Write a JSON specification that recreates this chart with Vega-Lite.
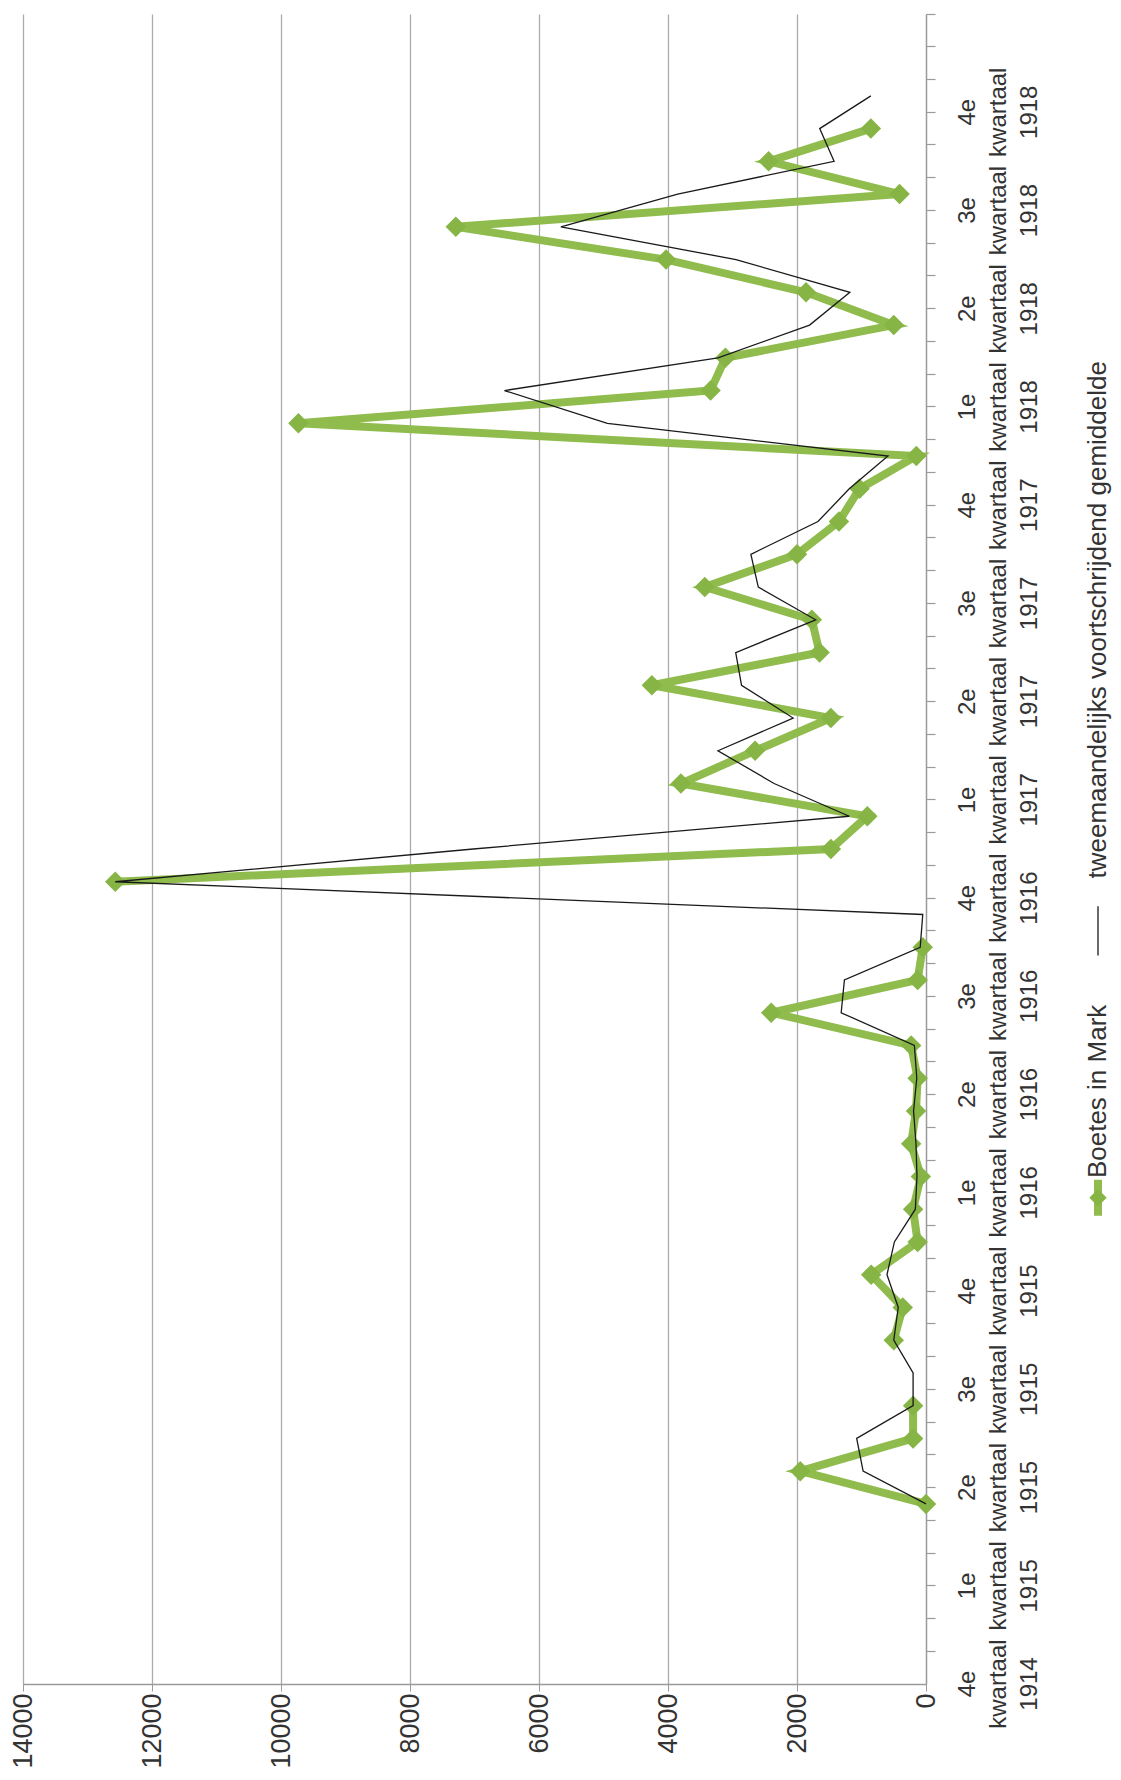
{
  "$schema": "https://vega.github.io/schema/vega-lite/v6.json",
  "background": "white",
  "padding": {"left": 9, "top": 13, "right": 5, "bottom": 5},
  "config": {"view": {"stroke": null}, "font": "Liberation Sans"},
  "spacing": 42,
  "hconcat": [
    {
      "width": 903,
      "height": 1670,
      "data": {"values": [
        {"maand": "1914-10", "boete": null, "gemiddelde": null},
        {"maand": "1914-11", "boete": null, "gemiddelde": null},
        {"maand": "1914-12", "boete": null, "gemiddelde": null},
        {"maand": "1915-01", "boete": null, "gemiddelde": null},
        {"maand": "1915-02", "boete": null, "gemiddelde": null},
        {"maand": "1915-03", "boete": 0, "gemiddelde": 0},
        {"maand": "1915-04", "boete": 1950, "gemiddelde": 975},
        {"maand": "1915-05", "boete": 200, "gemiddelde": 1075},
        {"maand": "1915-06", "boete": 200, "gemiddelde": 200},
        {"maand": "1915-07", "boete": null, "gemiddelde": 200},
        {"maand": "1915-08", "boete": 500, "gemiddelde": 500},
        {"maand": "1915-09", "boete": 360, "gemiddelde": 430},
        {"maand": "1915-10", "boete": 850, "gemiddelde": 605},
        {"maand": "1915-11", "boete": 130, "gemiddelde": 490},
        {"maand": "1915-12", "boete": 200, "gemiddelde": 165},
        {"maand": "1916-01", "boete": 80, "gemiddelde": 140},
        {"maand": "1916-02", "boete": 230, "gemiddelde": 155},
        {"maand": "1916-03", "boete": 155, "gemiddelde": 193},
        {"maand": "1916-04", "boete": 130, "gemiddelde": 143},
        {"maand": "1916-05", "boete": 230, "gemiddelde": 180},
        {"maand": "1916-06", "boete": 2400, "gemiddelde": 1315},
        {"maand": "1916-07", "boete": 130, "gemiddelde": 1265},
        {"maand": "1916-08", "boete": 50, "gemiddelde": 90},
        {"maand": "1916-09", "boete": null, "gemiddelde": 50},
        {"maand": "1916-10", "boete": 12570, "gemiddelde": 12570},
        {"maand": "1916-11", "boete": 1475, "gemiddelde": 7020},
        {"maand": "1916-12", "boete": 910, "gemiddelde": 1190},
        {"maand": "1917-01", "boete": 3800, "gemiddelde": 2355},
        {"maand": "1917-02", "boete": 2650, "gemiddelde": 3225},
        {"maand": "1917-03", "boete": 1475, "gemiddelde": 2060},
        {"maand": "1917-04", "boete": 4250, "gemiddelde": 2860},
        {"maand": "1917-05", "boete": 1650, "gemiddelde": 2950},
        {"maand": "1917-06", "boete": 1770, "gemiddelde": 1710},
        {"maand": "1917-07", "boete": 3430, "gemiddelde": 2600},
        {"maand": "1917-08", "boete": 2000, "gemiddelde": 2715},
        {"maand": "1917-09", "boete": 1350, "gemiddelde": 1675},
        {"maand": "1917-10", "boete": 1030, "gemiddelde": 1190},
        {"maand": "1917-11", "boete": 150, "gemiddelde": 590},
        {"maand": "1917-12", "boete": 9730, "gemiddelde": 4940},
        {"maand": "1918-01", "boete": 3340, "gemiddelde": 6535},
        {"maand": "1918-02", "boete": 3110, "gemiddelde": 3225},
        {"maand": "1918-03", "boete": 500, "gemiddelde": 1805},
        {"maand": "1918-04", "boete": 1860, "gemiddelde": 1180},
        {"maand": "1918-05", "boete": 4030, "gemiddelde": 2945},
        {"maand": "1918-06", "boete": 7290, "gemiddelde": 5660},
        {"maand": "1918-07", "boete": 410, "gemiddelde": 3850},
        {"maand": "1918-08", "boete": 2440, "gemiddelde": 1425},
        {"maand": "1918-09", "boete": 855, "gemiddelde": 1648},
        {"maand": "1918-10", "boete": null, "gemiddelde": 855},
        {"maand": "1918-11", "boete": null, "gemiddelde": null},
        {"maand": "1918-12", "boete": null, "gemiddelde": null}
      ]},
      "encoding": {
        "y": {
          "field": "maand",
          "type": "ordinal",
          "scale": {
            "type": "band",
            "reverse": true,
            "paddingInner": 0,
            "paddingOuter": 0,
            "domain": ["1914-10","1914-11","1914-12",
              "1915-01","1915-02","1915-03","1915-04","1915-05","1915-06","1915-07","1915-08","1915-09","1915-10","1915-11","1915-12",
              "1916-01","1916-02","1916-03","1916-04","1916-05","1916-06","1916-07","1916-08","1916-09","1916-10","1916-11","1916-12",
              "1917-01","1917-02","1917-03","1917-04","1917-05","1917-06","1917-07","1917-08","1917-09","1917-10","1917-11","1917-12",
              "1918-01","1918-02","1918-03","1918-04","1918-05","1918-06","1918-07","1918-08","1918-09","1918-10","1918-11","1918-12"]
          },
          "axis": {
            "orient": "right",
            "title": null,
            "grid": false,
            "bandPosition": 0,
            "tickSize": 9,
            "tickColor": "#9a9a9a",
            "tickWidth": 1.2,
            "domainColor": "#9a9a9a",
            "domainWidth": 1.3,
            "labelExpr": "(toNumber(slice(datum.value,5,7))-1)%3==0 ? [(floor((toNumber(slice(datum.value,5,7))-1)/3)+1) + 'e', 'kwartaal', slice(datum.value,0,4)] : ''",
            "labelAngle": 270,
            "labelAlign": "center",
            "labelBaseline": "top",
            "labelOffset": 16.4,
            "labelFont": "Liberation Sans",
            "labelFontSize": 24,
            "labelLineHeight": 31,
            "labelColor": "#333333",
            "labelPadding": 20,
            "labelOverlap": false
          }
        }
      },
      "layer": [
        {
          "mark": {"type": "line", "color": "#8fbc4d", "strokeWidth": 8, "invalid": "break-paths-filter-domains"},
          "encoding": {
            "x": {
              "field": "boete", "type": "quantitative",
              "scale": {"domain": [0, 14000], "reverse": true, "nice": false},
              "axis": {
                "orient": "bottom", "title": null,
                "values": [0, 2000, 4000, 6000, 8000, 10000, 12000, 14000],
                "format": "d",
                "grid": true, "gridColor": "#ababab", "gridWidth": 1.3,
                "domainColor": "#9a9a9a", "domainWidth": 1.3,
                "tickColor": "#9a9a9a", "tickSize": 7,
                "labelAngle": 270, "labelAlign": "right", "labelBaseline": "middle",
                "labelFont": "Liberation Sans", "labelFontSize": 27, "labelColor": "#333333",
                "labelPadding": 2, "labelOverlap": false, "labelFlush": false
              }
            }
          }
        },
        {
          "transform": [{"filter": "datum.boete != null"}],
          "mark": {"type": "point", "shape": "diamond", "filled": true, "size": 420, "color": "#86b545", "opacity": 1},
          "encoding": {
            "x": {"field": "boete", "type": "quantitative"}
          }
        },
        {
          "transform": [{"filter": "datum.gemiddelde != null"}],
          "mark": {"type": "line", "color": "#1a1a1a", "strokeWidth": 1.3},
          "encoding": {
            "x": {"field": "gemiddelde", "type": "quantitative"}
          }
        }
      ]
    },
    {
      "width": 20,
      "height": 1670,
      "layer": [
        {
          "data": {"values": [{"van": 13.8, "tot": 14.9, "kol": 0}]},
          "mark": {"type": "rule", "color": "#8fbc4d", "strokeWidth": 8},
          "encoding": {
            "x": {"field": "kol", "type": "quantitative", "scale": {"domain": [-1, 1]}, "axis": null},
            "y": {"field": "van", "type": "quantitative", "scale": {"domain": [-0.5, 50.5], "nice": false, "zero": false}, "axis": null},
            "y2": {"field": "tot"}
          }
        },
        {
          "data": {"values": [{"pos": 14.35, "kol": 0}]},
          "mark": {"type": "point", "shape": "diamond", "filled": true, "size": 300, "color": "#86b545", "opacity": 1},
          "encoding": {
            "x": {"field": "kol", "type": "quantitative", "scale": {"domain": [-1, 1]}, "axis": null},
            "y": {"field": "pos", "type": "quantitative", "scale": {"domain": [-0.5, 50.5], "nice": false, "zero": false}, "axis": null}
          }
        },
        {
          "data": {"values": [{"van": 21.75, "tot": 23.25, "kol": 0}]},
          "mark": {"type": "rule", "color": "#1a1a1a", "strokeWidth": 1.3},
          "encoding": {
            "x": {"field": "kol", "type": "quantitative", "scale": {"domain": [-1, 1]}, "axis": null},
            "y": {"field": "van", "type": "quantitative", "scale": {"domain": [-0.5, 50.5], "nice": false, "zero": false}, "axis": null},
            "y2": {"field": "tot"}
          }
        },
        {
          "data": {"values": [
            {"naam": "Boetes in Mark", "pos": 14.95, "kol": 0},
            {"naam": "tweemaandelijks voortschrijdend gemiddelde", "pos": 24.1, "kol": 0}
          ]},
          "mark": {"type": "text", "angle": 270, "align": "left", "baseline": "middle", "fontSize": 26, "font": "Liberation Sans", "color": "#333333"},
          "encoding": {
            "x": {"field": "kol", "type": "quantitative", "scale": {"domain": [-1, 1]}, "axis": null},
            "y": {"field": "pos", "type": "quantitative", "scale": {"domain": [-0.5, 50.5], "nice": false, "zero": false}, "axis": null},
            "text": {"field": "naam"}
          }
        }
      ]
    }
  ]
}
